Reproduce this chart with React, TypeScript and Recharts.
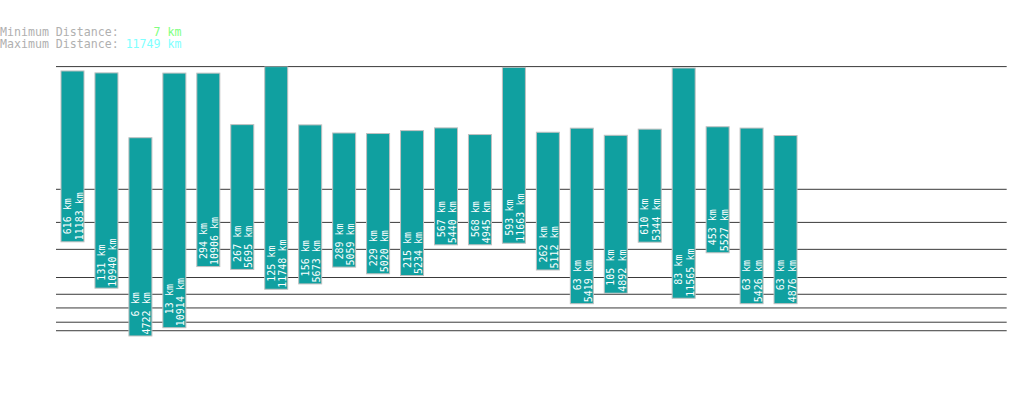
import React from "react";
import { BarChart, Bar, XAxis, YAxis, CartesianGrid } from "recharts";

const ROUTES = [
  "R01", "R02", "R03", "R04", "R05", "R06", "R07", "R08", "R09", "R10", "R11",
  "R12", "R13", "R14", "R15", "R16", "R17", "R18", "R19", "R20", "R21", "R22",
];
const MIN_KM = [616, 131, 6, 13, 294, 267, 125, 156, 289, 229, 215, 567, 568, 593, 262, 63, 105, 610, 83, 453, 63, 63];
const MAX_KM = [
  11183, 10940, 4722, 10914, 10906, 5695, 11748, 5673, 5059, 5020, 5234, 5440, 4945, 11663, 5112, 5419, 4892,
  5344, 11565, 5527, 5426, 4876,
];
const GRID_KM = [10, 20, 50, 100, 200, 500, 1000, 2000, 11749];
const SHORTEST_KM = 7;
const LONGEST_KM = 11749;

const data = ROUTES.map((route, i) => ({ route, min: MIN_KM[i], max: MAX_KM[i] }));

const MONO = "'DejaVu Sans Mono', monospace";

// d3-style power scale (exponent < 1) so recharts can use it as the y scale
function powScale(exponent: number) {
  let dom = [0, 1];
  let rng = [0, 1];
  const t = (v: number) => Math.sign(v) * Math.pow(Math.abs(v), exponent);
  const scale: any = (v: number) => {
    const a = t(dom[0]);
    const b = t(dom[1]);
    return rng[0] + ((t(Number(v)) - a) / (b - a)) * (rng[1] - rng[0]);
  };
  scale.domain = (d?: number[]) => {
    if (d === undefined) return dom.slice();
    dom = Array.from(d, Number);
    return scale;
  };
  scale.range = (r?: number[]) => {
    if (r === undefined) return rng.slice();
    rng = Array.from(r, Number);
    return scale;
  };
  scale.invert = (y: number) => {
    const a = t(dom[0]);
    const b = t(dom[1]);
    const tv = a + ((y - rng[0]) / (rng[1] - rng[0])) * (b - a);
    return Math.sign(tv) * Math.pow(Math.abs(tv), 1 / exponent);
  };
  scale.ticks = () => GRID_KM.slice();
  scale.tickFormat = () => (v: number) => String(v);
  scale.copy = () => powScale(exponent).domain(dom).range(rng);
  return scale;
}

const yScale = powScale(0.295);

const fmt = (n: number) => String(n).padStart(4, " ") + " km";

function RangeBar(props: any) {
  const { x, y, width, height, payload } = props;
  if (!payload || height == null || isNaN(height)) return null;
  const cx = x + width / 2;
  const bottom = y + height;
  const textStyle = { whiteSpace: "pre" as const };
  return (
    <g>
      <rect x={x} y={y} width={width} height={height} fill="#10a0a0" stroke="#c0c0c0" strokeWidth={1} />
      <text
        transform={`translate(${cx - 1.3},${bottom - 1.5}) rotate(-90)`}
        fill="#ffffff"
        fontFamily={MONO}
        fontSize={10}
        style={textStyle}
      >
        {fmt(payload.min)}
      </text>
      <text
        transform={`translate(${cx + 10},${bottom - 1.5}) rotate(-90)`}
        fill="#ffffff"
        fontFamily={MONO}
        fontSize={10}
        style={textStyle}
      >
        {fmt(payload.max)}
      </text>
    </g>
  );
}

export default function App() {
  return (
    <div style={{ position: "absolute", left: 0, top: 0, width: 1019, height: 402, background: "#fff" }}>
      <svg width={300} height={60} style={{ position: "absolute", left: 0, top: 0 }}>
        <text x={0} y={35.5} fontFamily={MONO} fontSize={11.6} style={{ whiteSpace: "pre" }}>
          <tspan fill="#b0b0b0">Minimum Distance: </tspan>
          <tspan fill="#80ff80">{String(SHORTEST_KM).padStart(5, " ") + " km"}</tspan>
        </text>
        <text x={0} y={47.5} fontFamily={MONO} fontSize={11.6} style={{ whiteSpace: "pre" }}>
          <tspan fill="#b0b0b0">Maximum Distance: </tspan>
          <tspan fill="#80ffff">{String(LONGEST_KM).padStart(5, " ") + " km"}</tspan>
        </text>
      </svg>
      <div style={{ position: "absolute", left: 0, top: 0 }}>
        <BarChart
          width={1019}
          height={402}
          data={data}
          margin={{ top: 66.6, right: 12.3, bottom: 33.8, left: 56 }}
        >
          <CartesianGrid vertical={false} stroke="#3a3a3a" strokeWidth={1} syncWithTicks />
          <XAxis dataKey="route" hide padding={{ left: 0, right: 203.7 }} />
          <YAxis
            hide
            type="number"
            scale={yScale}
            domain={[0, LONGEST_KM]}
            ticks={GRID_KM}
            interval={0}
            allowDataOverflow
          />
          <Bar
            dataKey={(d: any) => [d.min, d.max]}
            barSize={23}
            shape={RangeBar}
            isAnimationActive={false}
          />
        </BarChart>
      </div>
    </div>
  );
}
